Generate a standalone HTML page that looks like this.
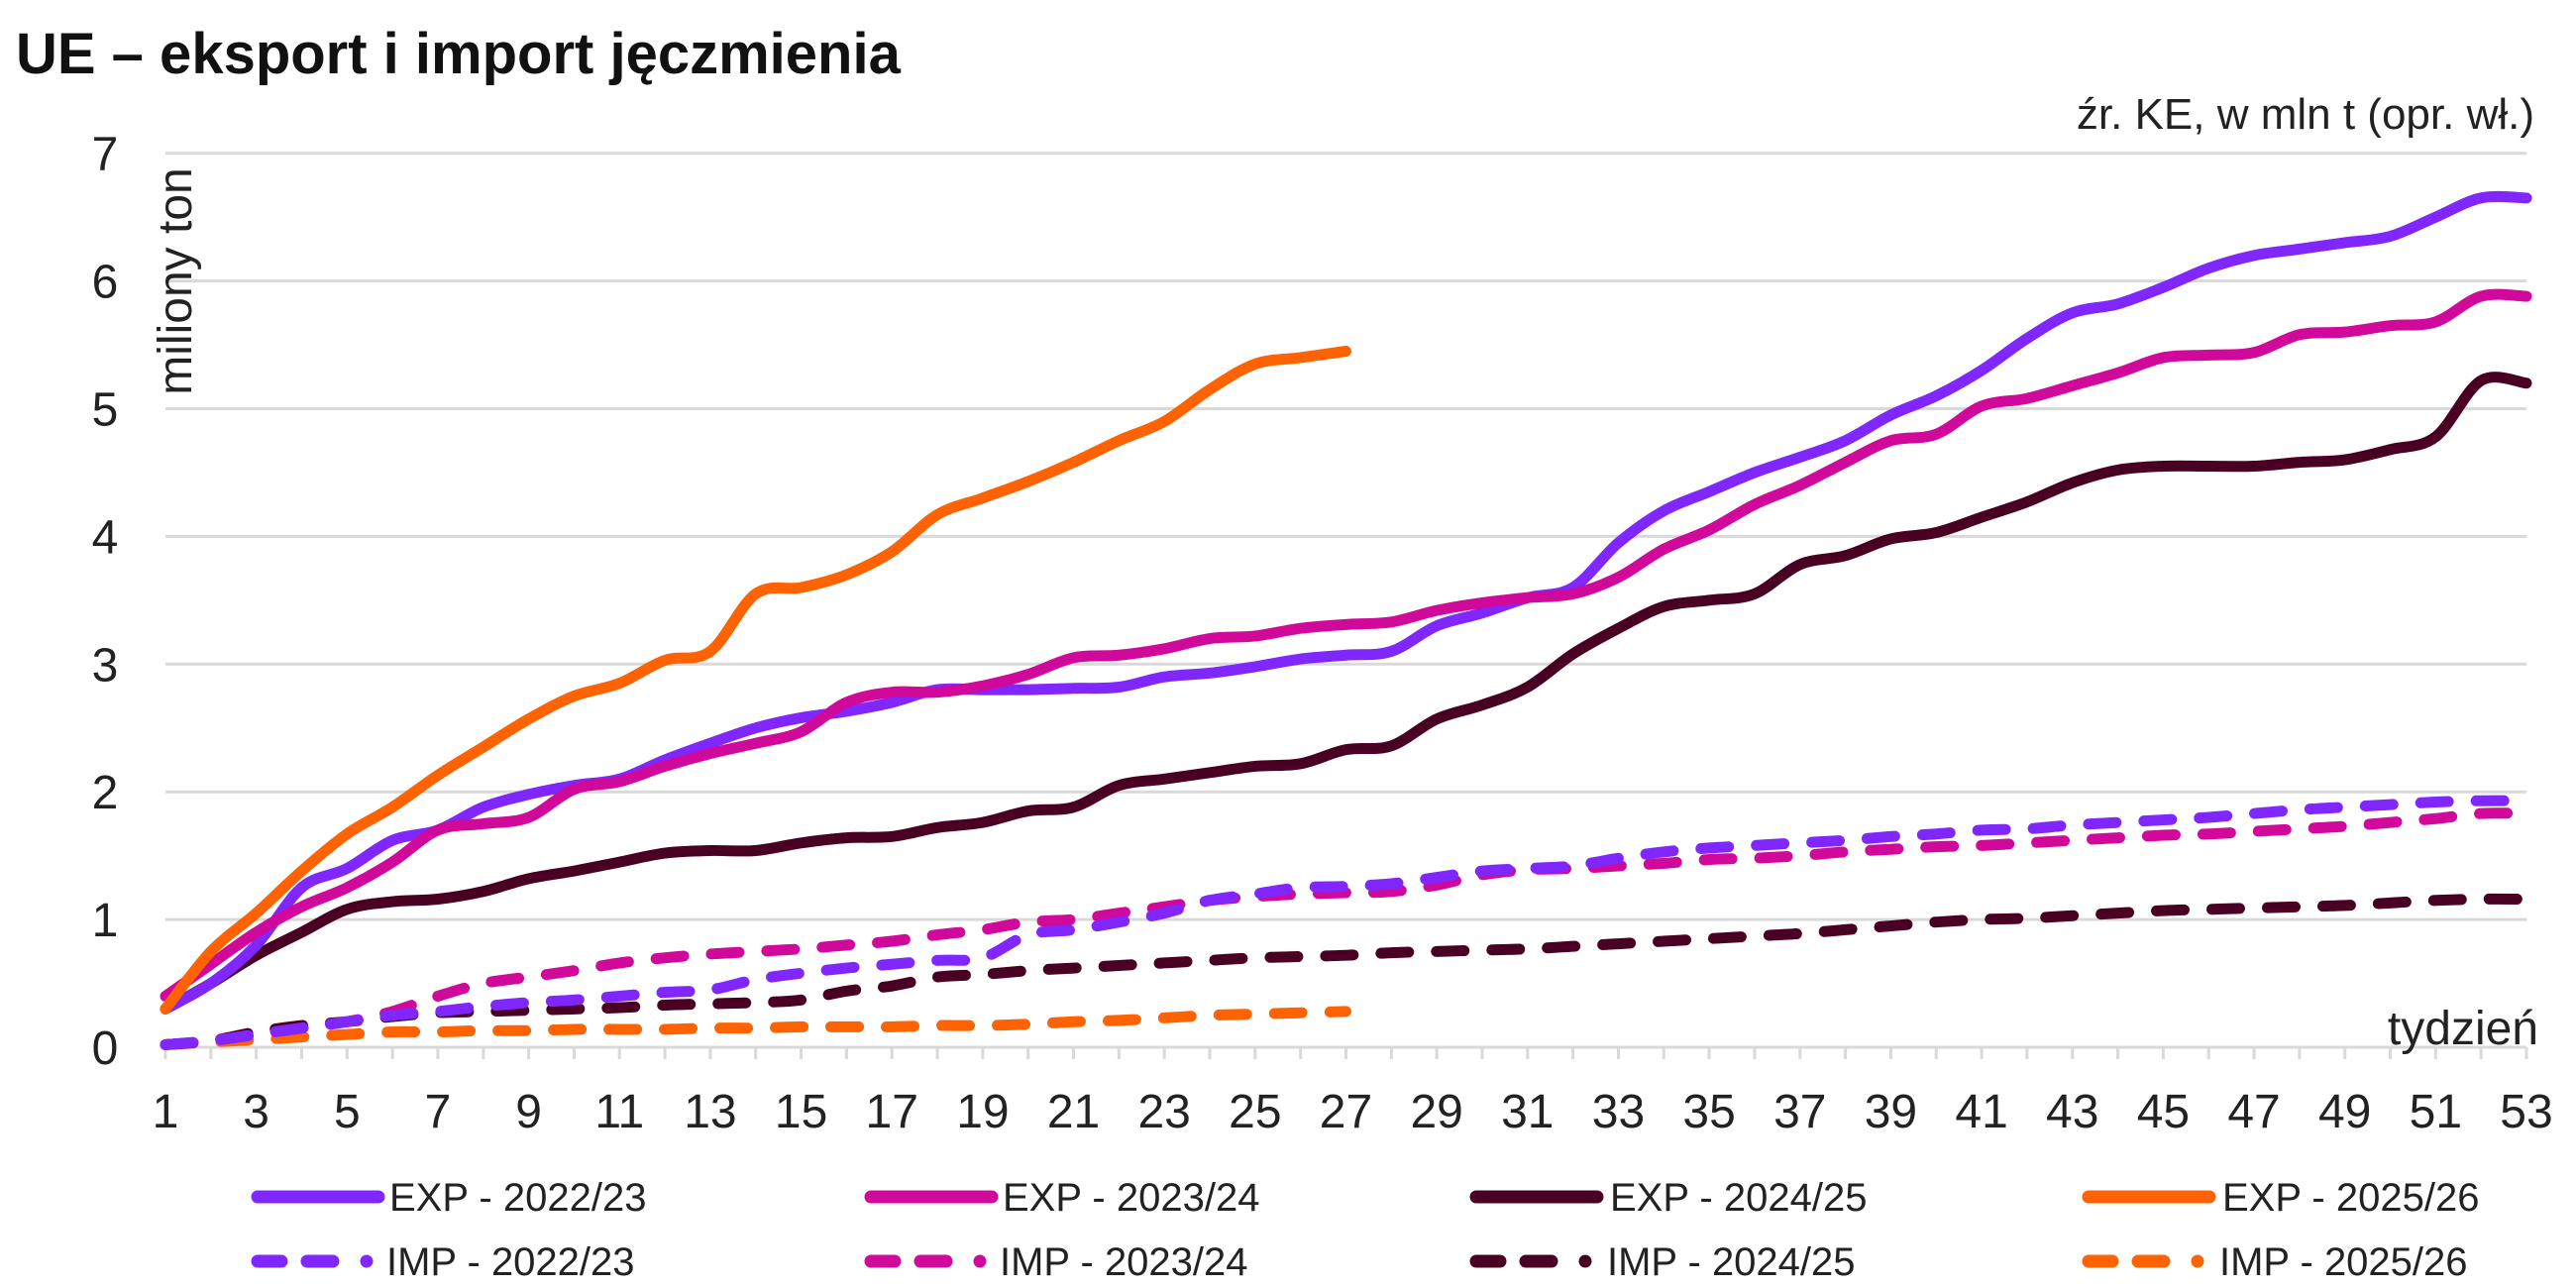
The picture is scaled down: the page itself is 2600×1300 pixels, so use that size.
<!DOCTYPE html>
<html><head><meta charset="utf-8"><style>
html,body{margin:0;padding:0;background:#fff;}
svg{display:block;font-family:"Liberation Sans",sans-serif;}
</style></head><body>
<svg id="s" width="2600" height="1300" viewBox="0 0 2600 1300" xmlns="http://www.w3.org/2000/svg">
<text x="16" y="74" font-size="58" font-weight="bold" fill="#111">UE – eksport i import jęczmienia</text>
<text x="2558" y="130" font-size="44" text-anchor="end" fill="#222">źr. KE, w mln t (opr. wł.)</text>
<g id="grid" stroke="#d9d9d9" stroke-width="3"></g>
<g id="ylab" font-size="48" fill="#222" text-anchor="middle"></g>
<g id="xlab" font-size="48" fill="#222" text-anchor="middle"></g>
<text transform="translate(193,284) rotate(-90)" font-size="48" text-anchor="middle" fill="#222">miliony ton</text>
<text x="2562" y="1054" font-size="48" text-anchor="end" fill="#222">tydzień</text>
<g id="series" fill="none" stroke-linecap="round" stroke-linejoin="round"></g>
<g id="legend" font-size="40" fill="#222"></g>
</svg>
<script>
const X0=167,DX=2383/52,Y0=1057,DY=128.9;
const xs=w=>X0+(w-1)*DX, ys=v=>Y0-v*DY;
const NS="http://www.w3.org/2000/svg";
function el(t,a,p){const e=document.createElementNS(NS,t);for(const k in a)e.setAttribute(k,a[k]);p.appendChild(e);return e;}
const g=document.getElementById('grid');
for(let i=1;i<=7;i++)el('line',{x1:X0,x2:2550,y1:ys(i),y2:ys(i)},g);
el('line',{x1:X0,x2:2550,y1:Y0,y2:Y0},g);
for(let w=1;w<=53;w++)el('line',{x1:xs(w),x2:xs(w),y1:Y0,y2:Y0+12},g);
const yl=document.getElementById('ylab');
for(let i=0;i<=7;i++){const t=el('text',{x:106,y:ys(i)+17},yl);t.textContent=i;}
const xl=document.getElementById('xlab');
for(let w=1;w<=53;w+=2){const t=el('text',{x:xs(w),y:1138},xl);t.textContent=w;}
const D={
e22:[0.3,0.5,0.8,1.25,1.4,1.62,1.7,1.88,1.98,2.05,2.1,2.25,2.38,2.5,2.58,2.63,2.7,2.8,2.8,2.8,2.81,2.82,2.9,2.93,2.98,3.04,3.07,3.1,3.3,3.4,3.52,3.6,3.95,4.2,4.35,4.5,4.62,4.75,4.95,5.1,5.3,5.55,5.75,5.82,5.95,6.1,6.2,6.25,6.3,6.35,6.5,6.65,6.65],
e23:[0.4,0.65,0.9,1.1,1.25,1.45,1.7,1.75,1.8,2.02,2.08,2.2,2.3,2.38,2.47,2.7,2.78,2.78,2.83,2.92,3.05,3.07,3.12,3.2,3.22,3.28,3.31,3.33,3.42,3.48,3.52,3.55,3.68,3.9,4.05,4.25,4.4,4.58,4.75,4.8,5.02,5.08,5.18,5.28,5.4,5.42,5.44,5.58,5.6,5.65,5.68,5.88,5.88],
e24:[0.3,0.5,0.72,0.9,1.08,1.14,1.16,1.22,1.32,1.38,1.45,1.52,1.54,1.54,1.6,1.64,1.65,1.72,1.76,1.85,1.88,2.05,2.1,2.15,2.2,2.22,2.33,2.36,2.57,2.68,2.82,3.08,3.28,3.45,3.5,3.55,3.78,3.85,3.98,4.03,4.15,4.27,4.42,4.52,4.55,4.55,4.55,4.58,4.6,4.68,4.78,5.22,5.2],
e25:[0.3,0.75,1.05,1.38,1.67,1.88,2.13,2.35,2.57,2.75,2.85,3.03,3.1,3.55,3.6,3.7,3.88,4.17,4.3,4.43,4.58,4.75,4.9,5.15,5.35,5.4,5.45],
i22:[0.02,0.05,0.1,0.15,0.2,0.25,0.28,0.32,0.35,0.37,0.4,0.43,0.45,0.53,0.58,0.62,0.65,0.68,0.7,0.88,0.92,0.98,1.05,1.15,1.2,1.25,1.26,1.28,1.33,1.38,1.4,1.42,1.48,1.53,1.56,1.58,1.6,1.62,1.65,1.67,1.7,1.71,1.74,1.76,1.78,1.8,1.83,1.86,1.88,1.9,1.92,1.93,1.93],
i23:[0.02,0.05,0.1,0.15,0.2,0.28,0.4,0.5,0.55,0.6,0.66,0.7,0.73,0.75,0.77,0.8,0.83,0.88,0.92,0.98,1.0,1.05,1.1,1.15,1.18,1.2,1.21,1.22,1.27,1.35,1.39,1.4,1.42,1.44,1.47,1.48,1.5,1.53,1.55,1.57,1.58,1.6,1.62,1.64,1.66,1.67,1.69,1.71,1.73,1.76,1.79,1.83,1.83],
i24:[0.02,0.05,0.12,0.17,0.2,0.24,0.27,0.28,0.29,0.3,0.31,0.33,0.34,0.35,0.37,0.44,0.48,0.55,0.57,0.6,0.62,0.64,0.66,0.68,0.7,0.71,0.72,0.74,0.75,0.76,0.77,0.79,0.81,0.83,0.85,0.87,0.89,0.92,0.95,0.98,1.0,1.01,1.03,1.05,1.07,1.08,1.09,1.1,1.11,1.13,1.15,1.16,1.16],
i25:[0.02,0.04,0.06,0.08,0.1,0.12,0.12,0.13,0.13,0.14,0.14,0.14,0.15,0.15,0.16,0.16,0.16,0.17,0.17,0.18,0.2,0.21,0.23,0.25,0.26,0.27,0.28]};
function path(a){const p=a.map((v,i)=>[xs(i+1),ys(v)]);let d=`M${p[0][0]},${p[0][1]}`;
for(let i=0;i<p.length-1;i++){const p0=p[i-1]||p[i],p1=p[i],p2=p[i+1],p3=p[i+2]||p2;
d+=` C${p1[0]+(p2[0]-p0[0])/6},${p1[1]+(p2[1]-p0[1])/6} ${p2[0]-(p3[0]-p1[0])/6},${p2[1]-(p3[1]-p1[1])/6} ${p2[0]},${p2[1]}`;}return d;}
const C={'22':'#8026ff','23':'#d0099b','24':'#4a0023','25':'#ff6200'};
const S=document.getElementById('series');
['i25','i24','i23','i22','e24','e22','e23','e25'].forEach(k=>{
 const a={d:path(D[k]),stroke:C[k.slice(1)],'stroke-width':11};
 if(k[0]=='i')a['stroke-dasharray']='28 28';
 el('path',a,S);});
const L=document.getElementById('legend');
const lx=[[260,393],[879,1012],[1490,1625],[2108,2243]];
['22','23','24','25'].forEach((k,i)=>{const [a,b]=lx[i];const yr=['2022/23','2023/24','2024/25','2025/26'][i];
 el('line',{x1:a,x2:a+122,y1:1208,y2:1208,stroke:C[k],'stroke-width':13,'stroke-linecap':'round'},L);
 let t=el('text',{x:b,y:1222},L);t.textContent='EXP - '+yr;
 el('path',{d:`M${a},1273 H${a+24} M${a+50},1273 H${a+76} M${a+110},1273 H${a+110}`,stroke:C[k],'stroke-width':13,'stroke-linecap':'round'},L);
 t=el('text',{x:b-3,y:1287},L);t.textContent='IMP - '+yr;});
</script>
</body></html>
